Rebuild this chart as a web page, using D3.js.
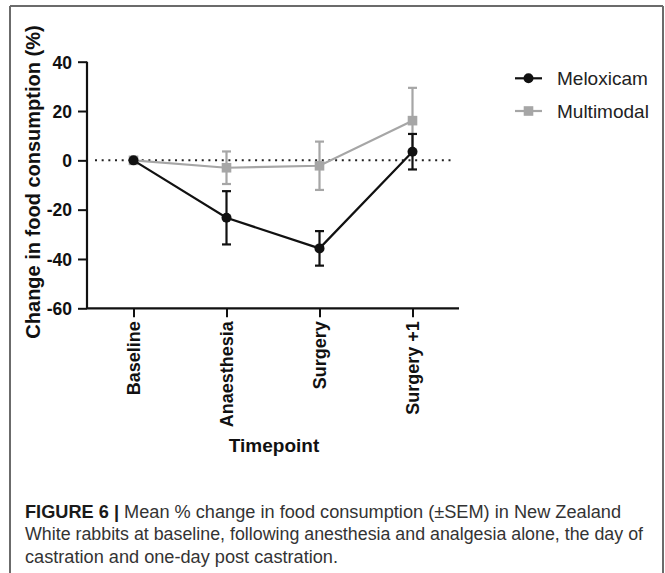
<!DOCTYPE html>
<html>
<head>
<meta charset="utf-8">
<script src="https://cdn.jsdelivr.net/npm/d3@7"></script>
<style>
  html, body { margin: 0; padding: 0; background: #fff; }
  svg { display: block; font-family: "Liberation Sans", Arial, Helvetica, sans-serif; }
</style>
</head>
<body>
<svg id="chart" width="665" height="573"></svg>
<script>
// ---- data ----
const categories = ["Baseline", "Anaesthesia", "Surgery", "Surgery +1"];
const meloxicamMean = [0, -23.3, -35.7, 3.5];
const meloxicamSEM  = [0, 10.8, 7.0, 7.2];
const multimodalMean = [0, -3.0, -2.2, 16.1];
const multimodalSEM  = [0, 6.6, 9.8, 13.3];
const seriesNames = ["Meloxicam", "Multimodal"];
const yTicks = [40, 20, 0, -20, -40, -60];
const yLabel = "Change in food consumption (%)";
const xLabel = "Timepoint";
const captionBold = "FIGURE 6 |";
const captionLines = [
  " Mean % change in food consumption (\u00B1SEM) in New Zealand",
  "White rabbits at baseline, following anesthesia and analgesia alone, the day of",
  "castration and one-day post castration."
];

const BLACK = "#111";
const GRAY = "#a6a6a6";

const svg = d3.select("#chart");

// frame
const frame = svg.append("g").attr("stroke", "#6b6b6b").attr("stroke-width", 2);
frame.append("line").attr("x1", 10).attr("x2", 663).attr("y1", 6).attr("y2", 6);
frame.append("line").attr("x1", 10).attr("x2", 10).attr("y1", 6).attr("y2", 573);
frame.append("line").attr("x1", 663).attr("x2", 663).attr("y1", 6).attr("y2", 573);

// scales
const x = d3.scalePoint().domain(categories).range([87, 459]).padding(0.5);
const y = d3.scaleLinear().domain([-60, 40]).range([308.3, 61.7]);

// zero dotted line
svg.append("line")
  .attr("x1", 95).attr("x2", 454)
  .attr("y1", y(0)).attr("y2", y(0))
  .attr("stroke", "#222").attr("stroke-width", 2)
  .attr("stroke-dasharray", "2,4.67");

// axes
const yAxis = svg.append("g")
  .attr("transform", `translate(${87},0)`)
  .call(d3.axisLeft(y).tickValues(yTicks).tickFormat(d => String(d))
    .tickSize(9).tickSizeOuter(0).tickPadding(6));
const xAxis = svg.append("g")
  .attr("transform", `translate(0,${y(-60)})`)
  .call(d3.axisBottom(x).tickSize(9).tickSizeOuter(0));

[yAxis, xAxis].forEach(g => {
  g.select(".domain").attr("stroke", BLACK).attr("stroke-width", 2.2);
  g.selectAll(".tick line").attr("stroke", BLACK).attr("stroke-width", 2);
  g.selectAll("text").attr("fill", BLACK).attr("font-weight", "bold")
    .attr("font-family", "'Liberation Sans', Arial, sans-serif");
});
yAxis.selectAll("text").attr("font-size", 17.5).attr("dy", "0.36em");
yAxis.select(".domain").attr("d", `M0,${y(40)}V${y(-60)}`);
xAxis.select(".domain").attr("d", `M${87},0H${459}`);
xAxis.selectAll("text")
  .attr("font-size", 18)
  .attr("transform", "rotate(-90)")
  .attr("text-anchor", "end")
  .attr("x", -13).attr("y", 0).attr("dy", "0.36em");

// axis titles
svg.append("text")
  .attr("transform", `translate(39.5,${182}) rotate(-90)`)
  .attr("text-anchor", "middle")
  .attr("font-weight", "bold").attr("font-size", 20).attr("fill", BLACK)
  .text(yLabel);
svg.append("text")
  .attr("x", 274).attr("y", 452)
  .attr("text-anchor", "middle")
  .attr("font-weight", "bold").attr("font-size", 19).attr("fill", BLACK)
  .text(xLabel);

// series drawing
function drawSeries(means, sems, color, shape) {
  const g = svg.append("g");
  const line = d3.line().x((d, i) => x(categories[i])).y(d => y(d));
  g.append("path").datum(means).attr("d", line)
    .attr("fill", "none").attr("stroke", color).attr("stroke-width", 2.2);
  means.forEach((m, i) => {
    const cx = x(categories[i]);
    if (sems[i] > 0) {
      const hi = y(m + sems[i]), lo = y(m - sems[i]);
      g.append("line").attr("x1", cx).attr("x2", cx).attr("y1", hi).attr("y2", lo)
        .attr("stroke", color).attr("stroke-width", 2.2);
      [hi, lo].forEach(yy => g.append("line")
        .attr("x1", cx - 4.5).attr("x2", cx + 4.5).attr("y1", yy).attr("y2", yy)
        .attr("stroke", color).attr("stroke-width", 2.2));
    }
  });
  means.forEach((m, i) => {
    const cx = x(categories[i]), cy = y(m);
    if (shape === "circle") {
      g.append("circle").attr("cx", cx).attr("cy", cy).attr("r", 5).attr("fill", color);
    } else {
      g.append("rect").attr("x", cx - 4.8).attr("y", cy - 4.8).attr("width", 9.6).attr("height", 9.6).attr("fill", color);
    }
  });
}
drawSeries(multimodalMean, multimodalSEM, GRAY, "square");
drawSeries(meloxicamMean, meloxicamSEM, BLACK, "circle");

// legend
const legendItems = [
  { name: seriesNames[0], color: BLACK, shape: "circle", y: 78.3 },
  { name: seriesNames[1], color: GRAY, shape: "square", y: 111 }
];
legendItems.forEach(it => {
  const g = svg.append("g");
  g.append("line").attr("x1", 515).attr("x2", 542).attr("y1", it.y).attr("y2", it.y)
    .attr("stroke", it.color).attr("stroke-width", 2.2);
  if (it.shape === "circle") g.append("circle").attr("cx", 528.5).attr("cy", it.y).attr("r", 5).attr("fill", it.color);
  else g.append("rect").attr("x", 523.7).attr("y", it.y - 4.8).attr("width", 9.6).attr("height", 9.6).attr("fill", it.color);
  g.append("text").attr("x", 557).attr("y", it.y + 6.8)
    .attr("font-size", 19).attr("fill", "#222").text(it.name);
});

// caption
const capY = [517.7, 540, 562.5];
const capW = [596, 618, 313];
captionLines.forEach((t, i) => {
  const txt = svg.append("text").attr("x", 25).attr("y", capY[i])
    .attr("font-size", 17.5).attr("fill", "#333")
    .attr("textLength", capW[i]).attr("lengthAdjust", "spacingAndGlyphs");
  if (i === 0) txt.append("tspan").attr("font-weight", "bold").attr("fill", "#1a1a1a").text(captionBold);
  txt.append("tspan").text(t);
});
</script>
</body>
</html>
